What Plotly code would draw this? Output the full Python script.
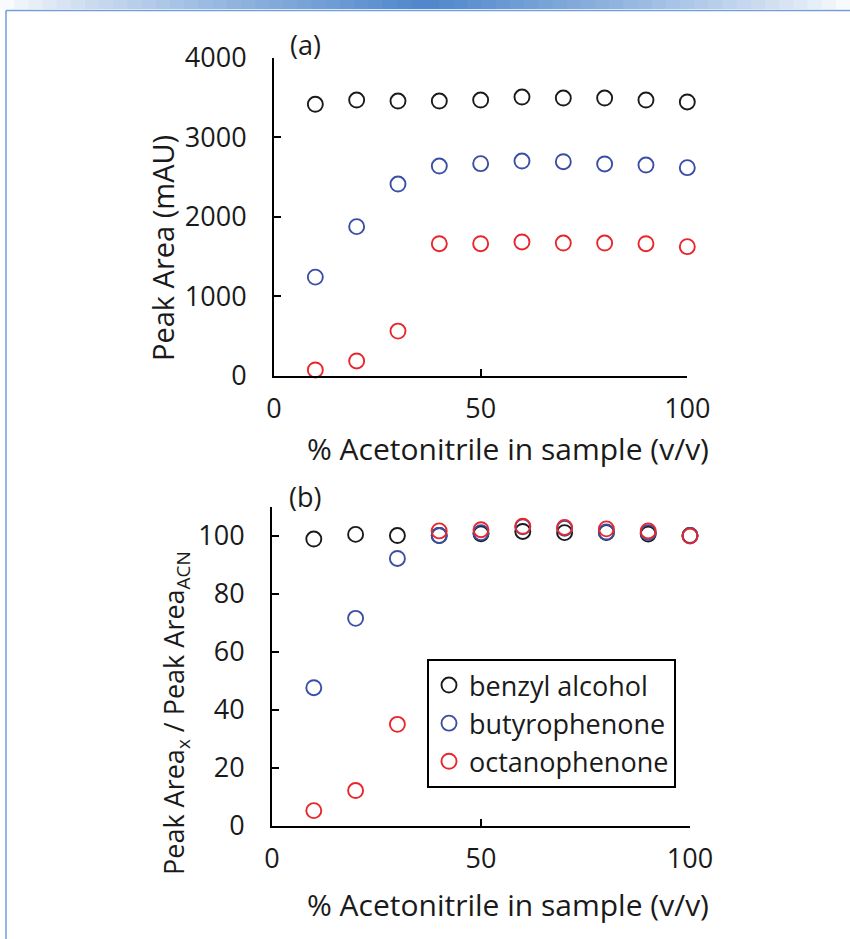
import plotly.graph_objects as go

W, H = 850, 939

# ---- data ----
x_acn = [10, 20, 30, 40, 50, 60, 70, 80, 90, 100]
a_benzyl = [3414, 3467, 3455, 3455, 3467, 3505, 3493, 3493, 3467, 3443]
a_butyro = [1240, 1875, 2411, 2637, 2667, 2700, 2692, 2663, 2650, 2617]
a_octano = [72, 185, 561, 1660, 1660, 1682, 1669, 1669, 1660, 1623]

b_benzyl = [98.8, 100.4, 100.0, 100.0, 100.6, 101.4, 101.0, 101.0, 100.5, 100.0]
b_butyro = [47.6, 71.5, 92.1, 100.0, 101.0, 103.0, 102.5, 101.2, 101.0, 100.0]
b_octano = [5.3, 12.2, 35.0, 101.6, 102.0, 103.2, 102.8, 102.3, 101.6, 99.8]

names = ["benzyl alcohol", "butyrophenone", "octanophenone"]
colors = ["#1a1a1a", "#3b4ea6", "#e8262b"]
x_ticks = [0, 50, 100]
ya_ticks = [0, 1000, 2000, 3000, 4000]
yb_ticks = [0, 20, 40, 60, 80, 100]

FONT = "Open Sans"
FS_TICK = 27
FS_TITLE = 29


def px(v):
    return v / W


def py(v):
    return 1 - v / H


fig = go.Figure()

for ys, nm, c in zip([a_benzyl, a_butyro, a_octano], names, colors):
    fig.add_trace(go.Scatter(
        x=x_acn, y=ys, mode="markers", name=nm, showlegend=False,
        xaxis="x", yaxis="y", cliponaxis=False,
        marker=dict(symbol="circle-open", size=15, color=c, line=dict(width=1.9, color=c)),
    ))
for ys, nm, c in zip([b_benzyl, b_butyro, b_octano], names, colors):
    fig.add_trace(go.Scatter(
        x=x_acn, y=ys, mode="markers", name=nm, showlegend=True,
        xaxis="x2", yaxis="y2", cliponaxis=False,
        marker=dict(symbol="circle-open", size=15, color=c, line=dict(width=1.9, color=c)),
    ))

axis_common = dict(
    showgrid=False, zeroline=False, showline=True, linecolor="black", linewidth=2,
    ticks="inside", ticklen=7, tickwidth=2, tickcolor="black", automargin=False,
    tickfont=dict(family=FONT, size=FS_TICK, color="#1a1a1a"), mirror=False,
)

fig.update_layout(
    width=W, height=H, autosize=False,
    margin=dict(l=0, r=0, t=0, b=0, pad=0, autoexpand=False),
    paper_bgcolor="white", plot_bgcolor="white",
    font=dict(family=FONT, size=FS_TICK, color="#1a1a1a"),
    xaxis=dict(domain=[px(274), px(687.3)], range=[0, 100], tickvals=x_ticks,
               anchor="y", ticklabelstandoff=8, **axis_common),
    yaxis=dict(domain=[py(375.7), py(57.7)], range=[0, 4000], tickvals=ya_ticks,
               anchor="x", ticklabelstandoff=20, **axis_common),
    xaxis2=dict(domain=[px(272), px(690)], range=[0, 100], tickvals=x_ticks,
                anchor="y2", ticklabelstandoff=8, **axis_common),
    yaxis2=dict(domain=[py(826), py(506.5)], range=[0, 110], tickvals=yb_ticks,
                anchor="x2", ticklabelstandoff=20, **axis_common),
    legend=dict(
        x=px(427), y=py(659), xanchor="left", yanchor="top",
        bordercolor="black", borderwidth=2, bgcolor="white",
        font=dict(family=FONT, size=27, color="#1a1a1a"),
        tracegroupgap=0,
    ),
    showlegend=True,
)

ann = [
    dict(text="(a)", x=px(305), y=py(45), size=FS_TICK),
    dict(text="(b)", x=px(305), y=py(497), size=FS_TICK),
    dict(text="% Acetonitrile in sample (v/v)", x=px(508), y=py(449), size=30),
    dict(text="% Acetonitrile in sample (v/v)", x=px(508), y=py(904), size=30),
    dict(text="Peak Area (mAU)", x=px(163), y=py(248), textangle=-90, size=FS_TITLE),
    dict(text="Peak Area<sub>x</sub> / Peak Area<sub>ACN</sub>", x=px(175), y=py(713),
         textangle=-90, size=27),
]
for a in ann:
    sz = a.pop("size")
    fig.add_annotation(xref="paper", yref="paper", showarrow=False,
                       xanchor="center", yanchor="middle",
                       font=dict(family=FONT, size=sz, color="#1a1a1a"), **a)

# decorative frame: gradient band on top, thin blue border lines
n = 60
for i in range(n):
    t = (i + 0.5) / n
    w = 1 - abs(t - 0.5) * 2  # 0 at edges, 1 in centre
    w = w ** 0.8
    r = int(255 + (79 - 255) * w)
    g = int(255 + (135 - 255) * w)
    b = int(255 + (204 - 255) * w)
    fig.add_shape(type="rect", xref="paper", yref="paper",
                  x0=i / n, x1=(i + 1) / n + 0.001, y0=py(9), y1=1,
                  fillcolor=f"rgb({r},{g},{b})", line=dict(width=0), layer="below")
fig.add_shape(type="line", xref="paper", yref="paper", x0=px(6), x1=1, y0=py(10.5), y1=py(10.5),
              line=dict(color="#6f9fdb", width=1.5))
fig.add_shape(type="line", xref="paper", yref="paper", x0=px(6), x1=px(6), y0=py(10.5), y1=0,
              line=dict(color="#6f9fdb", width=1.5))

fig.write_html(
    "out.html",
    post_script="document.body.style.margin='0';document.body.style.padding='0';"
                "document.documentElement.style.overflow='hidden';",
)
